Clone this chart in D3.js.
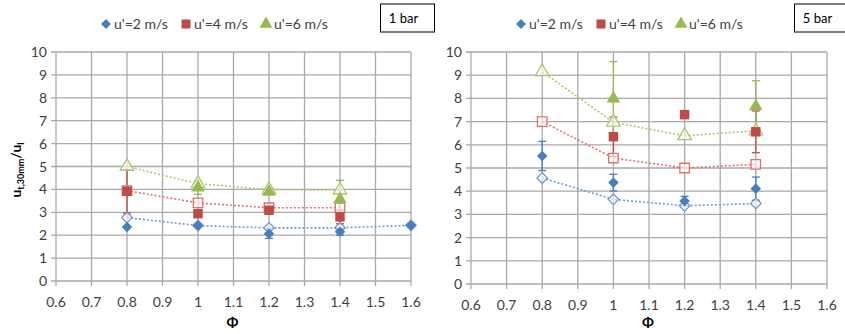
<!DOCTYPE html>
<html>
<head>
<meta charset="utf-8">
<script src="https://cdn.jsdelivr.net/npm/d3@7"></script>
<style>
  body { margin: 0; background: #fff; }
  svg { font-family: Lato, "Open Sans", sans-serif; }
</style>
</head>
<body>
<svg id="chart" width="845" height="334"></svg>
<script>
"use strict";

// eixos comuns
var phiTicks = [0.6, 0.7, 0.8, 0.9, 1.0, 1.1, 1.2, 1.3, 1.4, 1.5, 1.6];
var yTicks = [0, 1, 2, 3, 4, 5, 6, 7, 8, 9, 10];
var seriesNames = ["u'=2 m/s", "u'=4 m/s", "u'=6 m/s"];

// 1 bar
var phi1 = [0.8, 1.0, 1.2, 1.4, 1.6];
var u2Exp1 = [2.36, 2.42, 2.06, 2.15, 2.43];
var u2Err1 = [0, 0.05, 0.2, 0.15, 0];
var u2Mod1 = [2.77, 2.42, 2.32, 2.32, 2.43];
var u4Exp1 = [3.92, 2.94, 3.09, 2.80, null];
var u4Err1 = [0.95, 0.1, 0.1, 0.3, 0];
var u4Mod1 = [3.95, 3.41, 3.2, 3.2, null];
var u6Exp1 = [null, 4.08, 3.89, 3.57, null];
var u6Err1 = [0, 0.3, 0.1, 0.83, 0];
var u6Mod1 = [5.0, 4.25, 3.99, 3.97, null];

// 5 bar
var phi5 = [0.8, 1.0, 1.2, 1.4];
var u2Exp5 = [5.52, 4.37, 3.58, 4.11];
var u2Err5 = [0.63, 0.36, 0.2, 0.5];
var u2Mod5 = [4.57, 3.65, 3.37, 3.47];
var u4Exp5 = [null, 6.35, 7.30, 6.56];
var u4Err5 = [0, 0.85, 0, 0.9];
var u4Mod5 = [7.0, 5.43, 5.0, 5.16];
var u6Exp5 = [null, 7.99, null, 7.66];
var u6Err5 = [0, 1.6, 0, 1.1];
var u6Mod5 = [9.15, 6.97, 6.39, 6.6];

var corCheia = ["#4a7ebb", "#be4b48", "#98b954"];
var corAberta = ["#6b9bd6", "#e0706d", "#a9c96a"];
var simbolos = [d3.symbolSquare, d3.symbolSquare, d3.symbolTriangle];
var rotacoes = [45, 0, 0];
var tamanhos = [56, 90, 80];

var svg = d3.select("#chart");

function pontos(phi, vals, errs) {
    var out = [];
    phi.forEach(function (p, i) {
        if (vals[i] !== null) out.push({x: p, y: vals[i], e: errs ? errs[i] : 0});
    });
    return out;
}

function painel(cfg) {
    var x = d3.scaleLinear().domain([0.6, 1.6]).range([cfg.x0, cfg.x1]);
    var y = d3.scaleLinear().domain([0, 10]).range([cfg.y0, cfg.y1]);
    var g = svg.append("g");

    // grade
    g.selectAll("line.vg").data(phiTicks).enter().append("line")
        .attr("x1", d => x(d)).attr("x2", d => x(d))
        .attr("y1", y(10)).attr("y2", y(0) + 5)
        .attr("stroke", "#a9a9a9").attr("stroke-width", 1.3);
    g.selectAll("line.hg").data(yTicks).enter().append("line")
        .attr("x1", x(0.6) - 5).attr("x2", x(1.6))
        .attr("y1", d => y(d)).attr("y2", d => y(d))
        .attr("stroke", "#a9a9a9").attr("stroke-width", 1.3);

    // rótulos dos eixos
    g.selectAll("text.xt").data(phiTicks).enter().append("text")
        .attr("x", d => x(d)).attr("y", y(0) + 26)
        .attr("text-anchor", "middle").attr("font-size", 14).attr("fill", "#404040")
        .text(d => d3.format("")(+d.toFixed(1)));
    g.selectAll("text.yt").data(yTicks).enter().append("text")
        .attr("x", x(0.6) - 9).attr("y", d => y(d) + 5)
        .attr("text-anchor", "end").attr("font-size", 14).attr("fill", "#404040")
        .text(d => d);

    g.append("text").attr("x", (x(0.6) + x(1.6)) / 2 - 1).attr("y", 327)
        .attr("text-anchor", "middle").attr("font-size", 14).attr("font-weight", "bold")
        .text("\u03A6");

    var linha = d3.line().x(d => x(d.x)).y(d => y(d.y));

    cfg.series.forEach(function (s, k) {
        var mod = pontos(cfg.phi, s.mod);
        g.append("path").datum(mod).attr("d", linha)
            .attr("fill", "none").attr("stroke", corAberta[k])
            .attr("stroke-width", 1.6).attr("stroke-dasharray", "2,2");
    });

    cfg.series.forEach(function (s, k) {
        var exp = pontos(cfg.phi, s.exp, s.err).filter(d => d.e > 0);
        var eg = g.append("g").attr("stroke", corCheia[k]).attr("stroke-width", 1.3);
        eg.selectAll("line.v").data(exp).enter().append("line")
            .attr("x1", d => x(d.x)).attr("x2", d => x(d.x))
            .attr("y1", d => y(d.y - d.e)).attr("y2", d => y(d.y + d.e));
        eg.selectAll("line.t").data(exp).enter().append("line")
            .attr("x1", d => x(d.x) - 4).attr("x2", d => x(d.x) + 4)
            .attr("y1", d => y(d.y + d.e)).attr("y2", d => y(d.y + d.e));
        eg.selectAll("line.b").data(exp).enter().append("line")
            .attr("x1", d => x(d.x) - 4).attr("x2", d => x(d.x) + 4)
            .attr("y1", d => y(d.y - d.e)).attr("y2", d => y(d.y - d.e));
    });

    function posicao(k) {
        return d => "translate(" + x(d.x) + "," + y(d.y) + ") rotate(" + rotacoes[k] + ")";
    }

    cfg.series.forEach(function (s, k) {
        var sym = d3.symbol().type(simbolos[k]).size(tamanhos[k]);
        g.selectAll(null).data(pontos(cfg.phi, s.mod)).enter().append("path")
            .attr("d", sym)
            .attr("transform", posicao(k))
            .attr("fill", "#fff").attr("fill-opacity", 0.6)
            .attr("stroke", corAberta[k]).attr("stroke-width", 1.3);
    });

    cfg.series.forEach(function (s, k) {
        var sym = d3.symbol().type(simbolos[k]).size(tamanhos[k]);
        g.selectAll(null).data(pontos(cfg.phi, s.exp)).enter().append("path")
            .attr("d", sym)
            .attr("transform", posicao(k))
            .attr("fill", corCheia[k]);
    });

    // legenda
    var leg = g.selectAll("g.leg").data(seriesNames).enter().append("g")
        .attr("transform", (d, i) => "translate(" + (cfg.legX + i * 80) + ",24)");
    leg.append("path")
        .attr("d", (d, i) => d3.symbol().type(simbolos[i]).size(tamanhos[i] * 0.9)())
        .attr("transform", (d, i) => "rotate(" + rotacoes[i] + ")")
        .attr("fill", (d, i) => corCheia[i]);
    leg.append("text").attr("x", 8).attr("y", 5)
        .attr("font-size", 14).attr("fill", "#404040").text(d => d);

    // caixa da pressão
    g.append("rect").attr("x", cfg.boxX).attr("y", 4).attr("width", 54).attr("height", 28)
        .attr("fill", "#fff").attr("stroke", "#000").attr("stroke-width", 1);
    g.append("text").attr("x", cfg.boxX + 23).attr("y", 23)
        .attr("text-anchor", "middle").attr("font-size", 13).text(cfg.label);
}

painel({
    x0: 56, x1: 411, y0: 281, y1: 52, legX: 106, boxX: 380.5, label: "1 bar",
    phi: phi1,
    series: [
        {exp: u2Exp1, err: u2Err1, mod: u2Mod1},
        {exp: u4Exp1, err: u4Err1, mod: u4Mod1},
        {exp: u6Exp1, err: u6Err1, mod: u6Mod1}
    ]
});

painel({
    x0: 471, x1: 827, y0: 284, y1: 52, legX: 521, boxX: 794.5, label: "5 bar",
    phi: phi5,
    series: [
        {exp: u2Exp5, err: u2Err5, mod: u2Mod5},
        {exp: u4Exp5, err: u4Err5, mod: u4Mod5},
        {exp: u6Exp5, err: u6Err5, mod: u6Mod5}
    ]
});

// título do eixo y
var yt = svg.append("text")
    .attr("transform", "translate(21,170) rotate(-90)")
    .attr("text-anchor", "middle").attr("font-size", 14).attr("font-weight", "bold");
yt.append("tspan").text("u");
yt.append("tspan").attr("font-size", 9).attr("dy", 3).text("t,30mm");
yt.append("tspan").attr("dy", -3).text("/u");
yt.append("tspan").attr("font-size", 9).attr("dy", 3).text("l");
</script>
</body>
</html>
